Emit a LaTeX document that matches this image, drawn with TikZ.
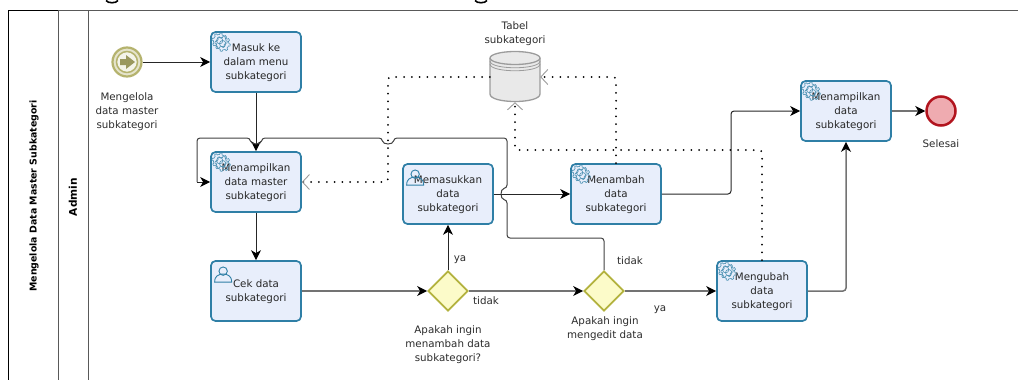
\documentclass[tikz,border=0pt]{standalone}
\usepackage{fontspec}
\setmainfont{DejaVu Sans}
\usetikzlibrary{arrows.meta,shapes.geometric,calc}
\definecolor{taskline}{HTML}{2F7FA6}
\definecolor{taskfill}{HTML}{E8EEFB}
\definecolor{gateline}{HTML}{B3B23E}
\definecolor{gatefill}{HTML}{FCFBC9}
\definecolor{startline}{HTML}{B5B36E}
\definecolor{endline}{HTML}{B2141E}
\definecolor{endfill}{HTML}{EFABB0}
\definecolor{dbline}{HTML}{9C9C9C}
\definecolor{dbfill}{HTML}{E9E9E9}
\definecolor{txt}{HTML}{2B2B2B}
\tikzset{
    every node/.style={text=txt, font=\fontsize{10.3}{14}\selectfont, align=center, inner sep=0pt},
    task/.style={draw=taskline, fill=taskfill, line width=1.7pt, rounded corners=4.5pt,
        minimum width=90pt, minimum height=60pt, text=black!85, text depth=-1pt},
    gateway/.style={diamond, draw=gateline, fill=gatefill, line width=1.7pt,
        minimum width=40pt, minimum height=40pt},
    flow/.style={draw=black!85, line width=1pt, rounded corners=3pt, -{Stealth[length=10pt,width=10pt,inset=3pt,color=black]}},
    heavyflow/.style={flow, draw=black!55, line width=1.5pt},
    plainflow/.style={draw=black!75, line width=1pt, rounded corners=3pt},
    dataflow/.style={black, line width=2pt, line cap=round, dash pattern=on 0pt off 7.8pt, rounded corners=3pt,
        -{Straight Barb[length=7pt,width=15pt,line width=0.9pt,color=dbline]}},
    lane/.style={line width=0.9pt, draw=black!65},
    lanetitle/.style={rotate=90, font=\fontsize{9.4}{10}\bfseries\selectfont, text=black},
    taskgear/.pic={
        \foreach \gx/\gy in {-1.5/-1.5, 1.5/1.5} {
            \draw [taskline!85, line width=0.6pt, domain=0:360, samples=97, shift={(\gx,\gy)}]
                plot (\x:{6.2+1.5*(sin(8*\x)>0)}) -- cycle;
            \draw [taskline!85, line width=0.6pt, shift={(\gx,\gy)}] (0,0) circle (3.2);
        }
    },
    taskuser/.pic={
        \draw [taskline, line width=0.9pt] (-8.5,8) .. controls (-8.5,1) and (-4,1) .. (-2.5,0)
            -- (2.5,0) .. controls (4,1) and (8.5,1) .. (8.5,8) -- cycle;
        \draw [taskline, line width=0.9pt] (0,-3) circle (4.2);
    },
}
\begin{document}
\begin{tikzpicture}[x=1pt, y=-1pt]
    \useasboundingbox (0,0) rectangle (1018,380);
    % pool and lane
    \draw [lane] (8,10) -- (1018,10);
    \draw [black, line width=1pt] (8,380) -- (8,10) -- (58,10);
    \draw [lane] (58,10) -- (58,380);
    \draw [lane] (88,10) -- (88,380);
    \node [lanetitle] (pooltitle) at (34,196) {Mengelola Data Master Subkategori};
    \node [lanetitle, font=\fontsize{10.6}{12}\bfseries\selectfont] (lanetitle) at (73,197) {Admin};
    % heading cut off by the edge
    \draw [black, line width=1.6pt] (106,0.5) .. controls (108,3.5) and (116,3.5) .. (118,0.5);
    \draw [black, line width=1.6pt] (475,0.5) .. controls (477,3.5) and (485,3.5) .. (487,0.5);

    % events
    \node [circle, draw=startline, fill=startline!35, line width=2.2pt, minimum size=29pt] (mulai) at (127,62) {};
    \node [circle, draw=startline, fill=startline!15, line width=1.5pt, minimum size=21pt] (mulaiin) at (127,62) {};
    \fill [startline!85!black] (120,59) -- (126,59) -- (126,55) -- (135,62) -- (126,69) -- (126,65) -- (120,65) -- cycle;
    \node [circle, draw=endline, fill=endfill, line width=2.5pt, minimum size=29pt] (selesai) at (941,111) {};
    \node (labelmulai) at (127,112) {Mengelola\\data master\\subkategori};
    \node (labelselesai) at (941,143.5) {Selesai};

    % tasks
    \node [task] (masuk) at (256,62) {Masuk ke\\dalam menu\\subkategori};
    \node [task] (master) at (256,182) {Menampilkan\\data master\\subkategori};
    \node [task] (cek) at (256,291) {Cek data\\subkategori};
    \node [task] (memasukkan) at (448,194) {Memasukkan\\data\\subkategori};
    \node [task] (menambah) at (616,194) {Menambah\\data\\subkategori};
    \node [task] (mengubah) at (762,291) {Mengubah\\data\\subkategori};
    \node [task] (tampil) at (846,111) {Menampilkan\\data\\subkategori};
    \pic at ($(masuk.north west)+(11,11)$) {taskgear};
    \pic at ($(master.north west)+(11,11)$) {taskgear};
    \pic at ($(menambah.north west)+(11,11)$) {taskgear};
    \pic at ($(mengubah.north west)+(11,11)$) {taskgear};
    \pic at ($(tampil.north west)+(11,11)$) {taskgear};
    \pic at ($(cek.north west)+(13,14)$) {taskuser};
    \pic at ($(memasukkan.north west)+(13,14)$) {taskuser};

    % gateways
    \node [gateway] (tambah) at (448,291) {};
    \node [gateway] (edit) at (604,291) {};
    \node (labeltambah) at (448,345) {Apakah ingin\\menambah data\\subkategori?};
    \node (labeledit) at (605,329) {Apakah ingin\\mengedit data};

    % table
    \node [minimum width=50pt, minimum height=50pt] (tabel) at (515,77) {};
    \draw [dbline, fill=dbfill, line width=1.3pt] (490,58) -- (490,94) .. controls (490,104) and (540,104) .. (540,94) -- (540,58);
    \draw [dbline, fill=dbfill, line width=1.3pt] (515,58) ellipse (25 and 6.5);
    \draw [dbline, line width=0.8pt] (490,61) .. controls (490,70) and (540,70) .. (540,61);
    \draw [dbline, line width=0.8pt] (490,64) .. controls (490,73) and (540,73) .. (540,64);
    \node (labeltabel) at (515,34) {Tabel\\subkategori};

    % sequence flows
    \draw [flow] (mulai) -- (masuk);
    \draw [flow] (masuk) -- (master);
    \draw [flow] (master) -- (cek);
    \draw [heavyflow] (cek) -- (tambah);
    \draw [flow] (tambah) -- (memasukkan);
    \draw [heavyflow] (tambah) -- (edit);
    \draw [heavyflow] (edit) -- (mengubah);
    \draw [flow] (memasukkan) -- (menambah);
    \draw [flow] (menambah) -| ($(menambah.east)!0.5!(tampil.west)$) |- (tampil);
    \draw [heavyflow] (mengubah) -| (tampil);
    \draw [heavyflow] (tampil) -- (selesai);
    \node (ya1) at (460,259.5) {ya};
    \node (tidak1) at (486,301) {tidak};
    \node (tidak2) at (630,261) {tidak};
    \node (ya2) at (660,309.5) {ya};

    % loop back, it hops over the lines that it crosses
    \coordinate (kiri) at (197,138);
    \draw [plainflow] (edit.north) -- (604,238) -- (507,238) -- (507,200)
        .. controls (500,199) and (500,189) .. (507,188) -- (507,138) -- (394,138)
        .. controls (393,145) and (383,145) .. (382,138) -- (262,138)
        .. controls (261,145) and (251,145) .. (250,138) -- (kiri) -- (197,182);
    \draw [flow] (197,182) -- (master.west);

    % data flows
    \draw [dataflow] (tabel.west) -- (388,77) -- (388,182) -- (master.east);
    \draw [dataflow] (menambah.north) -- (616,77) -- (tabel.east);
    \draw [dataflow] (mengubah.north) -- (762,150) -- (515,150) -- (tabel.south);
\end{tikzpicture}
\end{document}
